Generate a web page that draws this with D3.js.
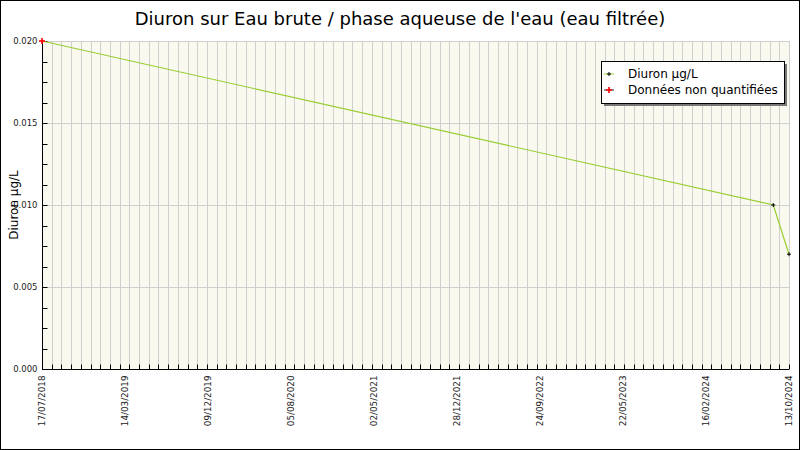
<!DOCTYPE html>
<html>
<head>
<meta charset="utf-8">
<script src="https://cdn.jsdelivr.net/npm/d3@7"></script>
<style>
  body { margin: 0; background: #fff; }
  svg { display: block; }
</style>
</head>
<body>
<script>
(function(window){
    'use strict'

    // data
    var sampleDates = ["2018-07-17", "2024-08-26", "2024-10-13"];
    var sampleValues = [0.020, 0.010, 0.007];
    var quantified = [false, true, true];

    var axisStart = "2018-07-17";
    var axisEnd = "2024-10-13";
    var dateLabels = ["17/07/2018", "14/03/2019", "09/12/2019", "05/08/2020", "02/05/2021",
                      "28/12/2021", "24/09/2022", "22/05/2023", "16/02/2024", "13/10/2024"];
    var yTicks = [0, 0.005, 0.010, 0.015, 0.020];

    var W = 800, H = 450;
    var margin = {left: 42, right: 11, top: 41, bottom: 81};
    var parse = d3.utcParse("%Y-%m-%d");
    var font = "DejaVu Sans";

    var svg = d3.select("body").append("svg")
        .attr("width", W)
        .attr("height", H);

    svg.append("rect")
        .attr("x", 0.5).attr("y", 0.5)
        .attr("width", W - 1).attr("height", H - 1)
        .attr("fill", "#fff").attr("stroke", "#000");

    var x = d3.scaleUtc()
        .domain([parse(axisStart), parse(axisEnd)])
        .range([margin.left, W - margin.right]);
    var y = d3.scaleLinear()
        .domain([0, 0.020])
        .range([H - margin.bottom, margin.top]);

    var x0 = x.range()[0], x1 = x.range()[1];
    var y0 = y.range()[0], y1 = y.range()[1];

    // plot background
    svg.append("rect")
        .attr("x", x0).attr("y", y1)
        .attr("width", x1 - x0).attr("height", y0 - y1)
        .attr("fill", "#f9f9ef");

    // vertical grid, one every ~30 days
    var t0 = x.domain()[0].getTime(), t1 = x.domain()[1].getTime();
    var nMinor = 77;
    var minorDates = d3.range(nMinor + 1).map(function(i) {
        return new Date(t0 + i * (t1 - t0) / nMinor);
    });

    svg.append("g")
        .selectAll("line")
        .data(minorDates)
        .enter().append("line")
        .attr("x1", function(d) { return Math.round(x(d)) + 0.5; })
        .attr("x2", function(d) { return Math.round(x(d)) + 0.5; })
        .attr("y1", y1).attr("y2", y0)
        .attr("stroke", "#d0d0d0");

    // horizontal grid
    svg.append("g")
        .selectAll("line")
        .data(yTicks.slice(1))
        .enter().append("line")
        .attr("x1", x0).attr("x2", x1)
        .attr("y1", function(d) { return Math.round(y(d)) + 0.5; })
        .attr("y2", function(d) { return Math.round(y(d)) + 0.5; })
        .attr("stroke", "#d0d0d0");

    // y axis
    var yMinor = d3.range(0, 0.020 + 1e-9, 0.00125);
    var yAxis = svg.append("g").attr("transform", "translate(" + (x0 + 0.5) + ",0)");
    yAxis.append("line")
        .attr("y1", y1).attr("y2", y0 + 0.5)
        .attr("stroke", "#000");
    yAxis.selectAll("line.tick")
        .data(yMinor)
        .enter().append("line")
        .attr("class", "tick")
        .attr("x1", 0).attr("x2", 5)
        .attr("y1", function(d) { return Math.round(y(d)) + 0.5; })
        .attr("y2", function(d) { return Math.round(y(d)) + 0.5; })
        .attr("stroke", "#000");
    yAxis.selectAll("text")
        .data(yTicks)
        .enter().append("text")
        .attr("x", -5)
        .attr("y", function(d) { return y(d); })
        .attr("dy", "0.35em")
        .attr("text-anchor", "end")
        .attr("font-family", font)
        .attr("font-size", "8.5px")
        .attr("fill", "#222")
        .text(d3.format(".3f"));

    // x axis
    var xAxis = svg.append("g").attr("transform", "translate(0," + (y0 + 0.5) + ")");
    xAxis.append("line")
        .attr("x1", x0).attr("x2", x1)
        .attr("stroke", "#000");
    xAxis.selectAll("line.tick")
        .data(minorDates)
        .enter().append("line")
        .attr("class", "tick")
        .attr("x1", function(d) { return Math.round(x(d)) + 0.5; })
        .attr("x2", function(d) { return Math.round(x(d)) + 0.5; })
        .attr("y1", 0).attr("y2", -5)
        .attr("stroke", "#000");

    var labelDates = dateLabels.map(function(l, i) {
        return new Date(t0 + i * (t1 - t0) / (dateLabels.length - 1));
    });
    xAxis.selectAll("text")
        .data(dateLabels)
        .enter().append("text")
        .attr("transform", function(d, i) {
            return "translate(" + x(labelDates[i]) + ",6) rotate(-90)";
        })
        .attr("dy", "0.35em")
        .attr("text-anchor", "end")
        .attr("font-family", font)
        .attr("font-size", "8.8px")
        .attr("fill", "#222")
        .text(function(d) { return d; });

    // series line
    var points = sampleDates.map(function(d, i) {
        return {date: parse(d), value: sampleValues[i], q: quantified[i]};
    });

    var line = d3.line()
        .x(function(d) { return x(d.date); })
        .y(function(d) { return y(d.value); });

    svg.append("path")
        .datum(points)
        .attr("d", line)
        .attr("fill", "none")
        .attr("stroke", "#9acd32")
        .attr("stroke-width", 1.2);

    function cross(g, cx, cy, r, color, w) {
        g.append("line").attr("x1", cx - r).attr("x2", cx + r).attr("y1", cy).attr("y2", cy)
            .attr("stroke", color).attr("stroke-width", w);
        g.append("line").attr("x1", cx).attr("x2", cx).attr("y1", cy - r).attr("y2", cy + r)
            .attr("stroke", color).attr("stroke-width", w);
    }

    var marks = svg.append("g");
    points.forEach(function(p) {
        if (p.q) cross(marks, x(p.date), y(p.value), 2, "#000", 1);
        else cross(marks, x(p.date), y(p.value), 3, "#ff0000", 1.6);
    });

    // title
    svg.append("text")
        .attr("x", W / 2)
        .attr("y", 25)
        .attr("text-anchor", "middle")
        .attr("font-family", font)
        .attr("font-size", "18px")
        .attr("fill", "#000")
        .text("Diuron sur Eau brute / phase aqueuse de l'eau (eau filtrée)");

    // y title
    svg.append("text")
        .attr("transform", "translate(14," + ((y0 + y1) / 2) + ") rotate(-90)")
        .attr("dy", "0.35em")
        .attr("text-anchor", "middle")
        .attr("font-family", font)
        .attr("font-size", "12px")
        .attr("fill", "#000")
        .text("Diuron µg/L");

    // legend
    var legend = svg.append("g").attr("transform", "translate(601,61)");
    legend.append("rect")
        .attr("x", 3).attr("y", 3)
        .attr("width", 183).attr("height", 42)
        .attr("fill", "#777");
    legend.append("rect")
        .attr("x", 0.5).attr("y", 0.5)
        .attr("width", 183).attr("height", 42)
        .attr("fill", "#fff").attr("stroke", "#000");

    var legendItems = [
        {label: "Diuron µg/L", line: "#9acd32", mark: "#000", r: 2, w: 1},
        {label: "Données non quantifiées", line: "#333", mark: "#ff0000", r: 3, w: 1.6}
    ];
    legendItems.forEach(function(it, i) {
        var cy = 13 + i * 16;
        legend.append("line")
            .attr("x1", 3).attr("x2", 13).attr("y1", cy).attr("y2", cy)
            .attr("stroke", it.line);
        cross(legend, 8, cy, it.r, it.mark, it.w);
        legend.append("text")
            .attr("x", 27).attr("y", cy)
            .attr("dy", "0.35em")
            .attr("font-family", font)
            .attr("font-size", "12px")
            .attr("fill", "#000")
            .text(it.label);
    });

})(window);
</script>
</body>
</html>
